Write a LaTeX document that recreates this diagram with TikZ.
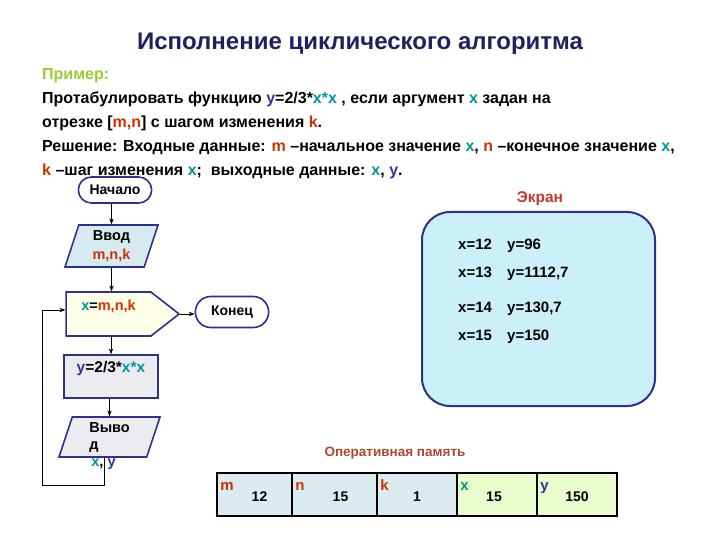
\documentclass[tikz,border=0pt]{standalone}
\usepackage{fontspec}
\setmainfont{Liberation Sans}
\usetikzlibrary{arrows.meta,positioning,shapes.geometric,shapes.misc,shapes.symbols}

\definecolor{navy}{RGB}{46,49,140}
\definecolor{ttlblue}{RGB}{32,32,96}
\definecolor{lime}{RGB}{153,204,51}
\definecolor{tealx}{RGB}{0,150,150}
\definecolor{orgm}{RGB}{204,51,0}
\definecolor{bluy}{RGB}{51,51,153}
\definecolor{redhd}{RGB}{192,57,43}
\definecolor{brnhd}{RGB}{176,70,43}
\definecolor{scrfill}{RGB}{204,240,248}
\definecolor{infill}{RGB}{214,234,240}
\definecolor{loopfill}{RGB}{255,255,232}
\definecolor{grfill}{RGB}{236,236,240}
\definecolor{memblue}{RGB}{220,235,239}
\definecolor{memgreen}{RGB}{232,253,203}

\newcommand{\fsz}[2]{\bfseries\fontsize{#1}{#2}\selectfont}
\newcommand{\colx}[1]{\textcolor{tealx}{#1}}
\newcommand{\coly}[1]{\textcolor{bluy}{#1}}
\newcommand{\colm}[1]{\textcolor{orgm}{#1}}

\begin{document}
\begin{tikzpicture}[x=1pt,y=-1pt,
  txt/.style={anchor=base west,inner sep=0pt,font=\fsz{16}{19}},
  term/.style={rounded rectangle,draw=navy,line width=1.6pt,fill=white,font=\fsz{14}{17}},
  io/.style={trapezium,trapezium left angle=70,trapezium right angle=110,trapezium stretches body,draw=navy,line width=1.6pt,align=center,font=\fsz{14.5}{19}},
  cyc/.style={signal,signal to=east,signal pointer angle=76,draw=navy,line width=1.6pt,fill=loopfill,font=\fsz{14.5}{17}},
  proc/.style={rectangle,draw=navy,line width=1.6pt,fill=grfill,font=\fsz{15.5}{18}},
  scrline/.style={anchor=base west,inner sep=0pt,font=\fsz{15}{18}},
  cell/.style={rectangle,draw=black,line width=1.5pt,minimum height=43,text height=14pt,text depth=0pt,font=\fsz{14}{16}},
  var/.style={anchor=north west,inner sep=4pt,yshift=-6pt,text height=8pt,text depth=0pt,font=\fsz{15}{17}},
  arr/.style={-{Stealth[length=2mm]},thin}
]
\useasboundingbox (0,0) rectangle (720,540);

% heading and task text
\node[font=\fsz{24}{28},text=ttlblue] (ttl) at (360,44) {Исполнение циклического алгоритма};
\node[txt,text=lime] (ex) at (42,80) {Пример:};
\node[txt] (t1) at (42,104) {Протабулировать функцию \coly{y}=2/3*\colx{x*x} , если аргумент \colx{x} задан на};
\node[txt] (t2) at (42,128) {отрезке [\colm{m,n}] с шагом изменения \colm{k}.};
\node[txt] (t3) at (42,152) {Решение: Входные данные: \colm{m} –начальное значение \colx{x}, \colm{n} –конечное значение \colx{x},};
\node[txt] (t4) at (42,176) {\colm{k} –шаг изменения \colx{x};\ \ выходные данные: \colx{x}, \coly{y}.};

% flowchart
\node[term,minimum width=80,minimum height=26] (start) at (115,190) {Начало};
\node[io,fill=infill,minimum width=93,minimum height=42] (in) at (111.5,246) {Ввод\\\colm{m,n,k}};
\node[cyc,minimum width=113,minimum height=44,text depth=18pt] (loop) at (108.5,314) {\colx{x}=\colm{m,n,k}};
\node[term,minimum width=80,minimum height=31] (end) at (232,312) {Конец};
\node[proc,minimum width=94,minimum height=43,text height=11pt,text depth=19pt] (calc) at (111,376.5) {\coly{y}=2/3*\colx{x*x}};
\node[io,fill=grfill,minimum width=101,minimum height=40,align=left,font=\fsz{14.5}{17},
  label={[xshift=-6pt,inner sep=1pt,font=\fsz{14.5}{17}]below:\colx{x}, \coly{y}}] (out) at (109.5,437) {Выво\\д};
\coordinate (back) at (42,485);

\draw[arr] (in.north |- start.south)--(in.north);
\draw[arr] (in.south)--(in.south |- loop.north);
\draw[arr] (calc.north |- loop.south)--(calc.north);
\draw[arr] (out.north |- calc.south)--(out.north);
\draw[arr] (loop.east)--(loop.east -| end.west);
\draw[arr] ([xshift=-5.5pt]out.south)|-(back)|-([yshift=4pt]loop.west);

% screen
\node[rectangle,rounded corners=28pt,draw=navy,line width=2pt,fill=scrfill,minimum width=233,minimum height=194] (scr) at (538.5,309) {};
\node[font=\fsz{15.5}{18},text=redhd] (scrt) at (540,199) {Экран};
\node[scrline] (s1) at (458,249) {\makebox[49pt][l]{x=12}y=96};
\node[scrline] (s2) at (458,277) {\makebox[49pt][l]{x=13}y=1112,7};
\node[scrline] (s3) at (458,312) {\makebox[49pt][l]{x=14}y=130,7};
\node[scrline] (s4) at (458,340) {\makebox[49pt][l]{x=15}y=150};

% memory
\node[font=\fsz{13.5}{16},text=brnhd] (memt) at (395,453) {Оперативная память};
\node[cell,fill=memblue,minimum width=75,label={[var,text=orgm]north west:m}] (cm) at (254.5,494.5) {\hspace{10pt}12};
\node[cell,fill=memblue,minimum width=85,label={[var,text=orgm]north west:n}] (cn) at (334.5,494.5) {\hspace{12pt}15};
\node[cell,fill=memblue,minimum width=80,label={[var,text=orgm]north west:k}] (ck) at (417,494.5) {1};
\node[cell,fill=memgreen,minimum width=80,label={[var,text=tealx]north west:x}] (cx) at (497,494.5) {\hspace{-6pt}15};
\node[cell,fill=memgreen,minimum width=80,label={[var,text=bluy]north west:y}] (cy) at (577,494.5) {150};
\end{tikzpicture}
\end{document}
